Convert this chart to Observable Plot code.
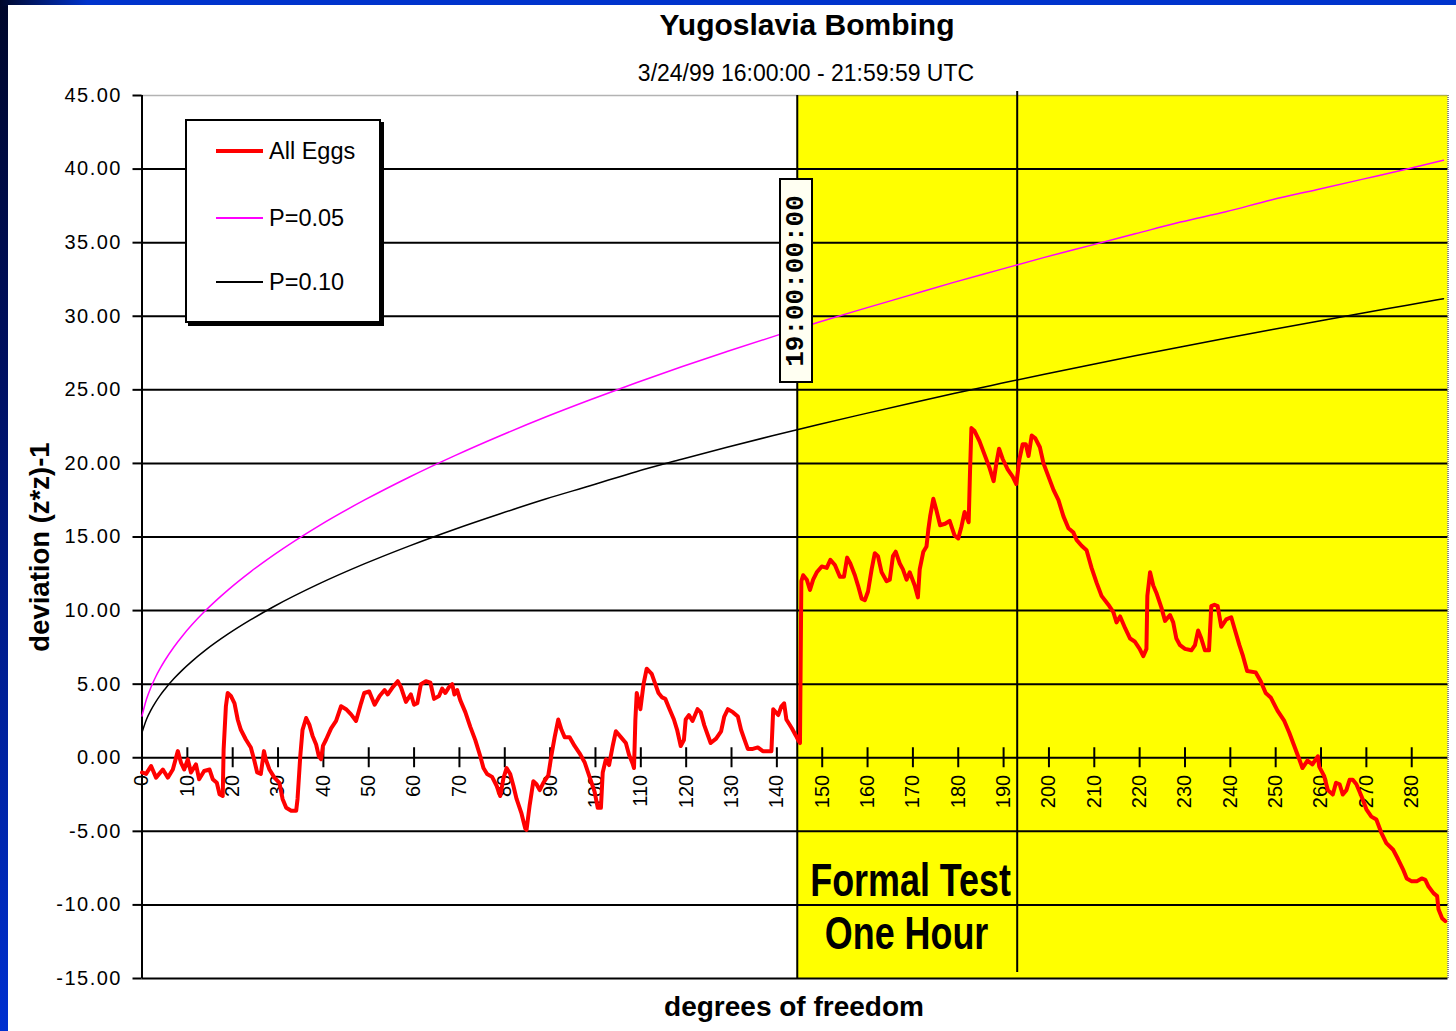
<!DOCTYPE html>
<html>
<head>
<meta charset="utf-8">
<script src="https://cdn.jsdelivr.net/npm/d3@7"></script>
<script src="https://cdn.jsdelivr.net/npm/@observablehq/plot@0.6"></script>
<style>
html, body { margin: 0; padding: 0; }
body { width: 1456px; height: 1031px; overflow: hidden; position: relative;
  background: linear-gradient(to bottom, #00072a 0%, #001060 35%, #0030d0 100%); }
#topstrip { position: absolute; left: 0; top: 0; width: 1456px; height: 6px;
  background: linear-gradient(to right, #00072a 0%, #0033cc 6%, #0033cc 100%); }
#card { position: absolute; left: 8px; top: 5px; width: 1448px; height: 1026px; background: #fff; }
.narrow { font-family: "Liberation Sans Narrow", "Arial Narrow", "Liberation Sans", sans-serif; }
#title { position: absolute; left: 0; width: 1614px; top: 8px; text-align: center; font-size: 30px; font-weight: bold; color: #000; }
#subtitle { position: absolute; left: 0; width: 1612px; top: 60px; text-align: center; font-size: 23px; color: #000; }
#chart { position: absolute; left: 0; top: 85px; }
#ytitle { position: absolute; left: 40px; top: 547px; transform: translate(-50%, -50%) rotate(-90deg); white-space: nowrap; font-size: 27.5px; font-weight: bold; }
#xtitle { position: absolute; left: 0; width: 1588px; top: 991px; text-align: center; font-size: 28px; font-weight: bold; }
#legend { position: absolute; left: 185px; top: 119px; width: 192px; height: 200px; border: 2px solid #000; background: #fff; box-shadow: 3px 3px 0 #000; font-family: "Liberation Sans", Arial, sans-serif; }
#legend .item { position: absolute; left: 0; height: 30px; width: 190px; }
#legend .swatch { position: absolute; left: 29px; width: 47px; top: 50%; }
#legend .lab { position: absolute; left: 82px; top: 50%; transform: translateY(-50%); font-size: 23.5px; white-space: nowrap; }
#stamp { position: absolute; left: 779px; top: 178px; width: 30px; height: 201px; border: 2px solid #000; background: #fffff2; }
#stamp span { position: absolute; left: 50%; top: 50%; transform: translate(-50%, -50%) rotate(-90deg); white-space: nowrap;
  font-family: "Liberation Mono", "DejaVu Sans Mono", monospace; font-weight: bold; font-size: 26px; }
svg text { font-family: "Liberation Sans", Arial, sans-serif; }
g[aria-label="y-axis tick label"] text { letter-spacing: 1.5px; }
</style>
</head>
<body>
<div id="topstrip"></div>
<div id="card"></div>
<div id="title" class="narrow"></div>
<div id="subtitle" class="narrow"></div>
<div id="chart"></div>
<div id="ytitle" class="narrow"></div>
<div id="xtitle" class="narrow"></div>
<div id="legend"></div>
<div id="stamp"><span></span></div>
<script>
// ---- Text ----
const chartTitle = "Yugoslavia Bombing";
const chartSubtitle = "3/24/99 16:00:00 - 21:59:59 UTC";
const yTitle = "deviation (z*z)-1";
const xTitle = "degrees of freedom";
const stampText = "19:00:00:00";
const seriesNames = ["All Eggs", "P=0.05", "P=0.10"];
const seriesColors = ["#ff0000", "#ff00ff", "#000000"];

// ---- Axes ----
const xDomain = [0, 288];
const yDomain = [-15, 45];
const xTickValues = [0,10,20,30,40,50,60,70,80,90,100,110,120,130,140,150,160,170,180,190,200,210,220,230,240,250,260,270,280];
const yTickValues = [-15,-10,-5,0,5,10,15,20,25,30,35,40,45];
const gridValues = [-15,-10,-5,0,5,10,15,20,25,30,35,40];

// ---- Formal test period ----
const formalRegion = [{start: 144.5, end: 288}];
const hourMark = [193];
const notes = [
  {x: 169.5, y: -8.4, text: "Formal Test"},
  {x: 168.6, y: -12.0, text: "One Hour"}
];

// ---- Threshold curves ----
const curveX = [0,1,2,3,4,5,7,9,11,14,19,24,29,39,49,59,69,79,89,99,109,119,129,139,149,159,169,179,189,199,209,219,229,239,249,259,269,279,287];
const p05 = [2.84,3.99,4.81,5.49,6.07,6.59,7.51,8.31,9.03,10.0,11.41,12.65,13.77,15.76,17.50,19.08,20.53,21.88,23.15,24.34,25.48,26.57,27.6,28.6,29.58,30.5,31.4,32.3,33.15,34.0,34.8,35.6,36.4,37.1,37.9,38.6,39.3,40.0,40.6];
const p10 = [1.71,2.61,3.25,3.78,4.24,4.64,5.36,5.99,6.55,7.31,8.41,9.38,10.26,11.81,13.17,14.40,15.53,16.58,17.58,18.50,19.44,20.28,21.1,21.88,22.63,23.35,24.06,24.75,25.41,26.06,26.69,27.31,27.91,28.5,29.08,29.65,30.21,30.75,31.19];

// ---- All Eggs cumulative deviation ----
const allEggs = [[0,-1.0],[0.9,-1.1],[2.0,-0.56],[3.1,-1.35],[4.6,-0.8],[5.7,-1.35],[6.8,-0.8],[7.9,0.45],[8.6,-0.34],[9.3,-0.8],[10.1,-0.11],[10.8,-1.0],[11.9,-0.45],[12.6,-1.46],[13.7,-0.9],[14.9,-0.8],[15.6,-1.46],[16.5,-1.7],[17.1,-2.48],[17.8,-2.6],[18.0,0.56],[18.5,3.5],[18.9,4.4],[19.6,4.2],[20.4,3.7],[21.1,2.6],[21.8,1.9],[22.9,1.24],[24.0,0.7],[24.7,-0.1],[25.4,-1.0],[26.2,-1.1],[26.9,0.45],[27.3,-0.11],[28.1,-0.8],[29.2,-1.35],[30.3,-1.7],[31.0,-2.8],[31.8,-3.4],[32.9,-3.6],[34.0,-3.6],[34.3,-2.8],[34.9,0.1],[35.4,1.9],[36.2,2.7],[36.9,2.25],[37.6,1.5],[38.4,0.9],[39.0,0.1],[39.5,-0.1],[39.9,0.8],[40.6,1.24],[41.7,2.0],[42.8,2.5],[43.9,3.5],[45.0,3.3],[46.1,2.95],[47.2,2.5],[48.3,3.7],[49.0,4.4],[50.1,4.5],[51.3,3.6],[52.4,4.2],[53.5,4.6],[54.2,4.3],[55.3,4.8],[56.4,5.2],[57.1,4.8],[58.2,3.8],[59.3,4.3],[60.0,3.6],[60.7,3.7],[61.5,5.0],[62.6,5.2],[63.6,5.1],[64.4,4.0],[65.5,4.2],[66.2,4.7],[66.9,4.4],[67.7,4.8],[68.4,5.0],[68.9,4.3],[69.5,4.6],[70.2,3.9],[71.3,3.1],[72.4,2.1],[73.5,1.2],[74.6,0.1],[75.3,-0.7],[76.1,-1.1],[77.2,-1.3],[78.2,-1.9],[79.0,-2.6],[79.7,-1.4],[80.4,-0.7],[81.2,-1.1],[81.9,-1.9],[82.6,-2.8],[83.7,-3.8],[84.5,-4.8],[84.8,-4.9],[85.5,-3.2],[86.3,-1.6],[87.0,-1.8],[87.7,-2.2],[88.5,-1.7],[89.6,-1.2],[90.3,0.2],[91.0,1.4],[91.8,2.6],[92.5,1.9],[93.2,1.4],[94.3,1.4],[95.4,0.8],[96.5,0.3],[97.6,-0.3],[98.7,-1.3],[99.8,-2.3],[100.5,-3.4],[101.2,-3.4],[101.6,-1.0],[102.3,-0.1],[103.0,-0.5],[103.8,0.8],[104.5,1.8],[105.6,1.4],[106.7,1.0],[107.4,0.2],[108.2,-0.4],[108.5,-0.7],[108.8,2.6],[109.1,4.4],[109.9,3.3],[110.6,5.0],[111.3,6.05],[112.4,5.7],[113.2,5.0],[113.9,4.4],[114.7,4.1],[115.4,4.0],[116.2,3.4],[117.3,2.6],[118.0,1.9],[118.8,0.8],[119.5,1.2],[119.9,2.6],[120.6,2.9],[121.4,2.5],[122.5,3.3],[123.2,3.1],[124.0,2.2],[124.7,1.6],[125.4,1.0],[126.6,1.3],[127.7,1.8],[128.4,2.8],[129.2,3.3],[130.3,3.1],[131.4,2.8],[132.1,1.9],[132.9,1.2],[133.6,0.6],[134.7,0.6],[135.8,0.7],[136.9,0.45],[138.8,0.45],[139.2,3.3],[140.3,2.9],[141.0,3.5],[141.6,3.7],[142.1,2.6],[143.3,2.0],[144.2,1.5],[144.7,1.2],[145.1,1.0],[145.4,12.0],[145.8,12.4],[146.6,12.1],[147.3,11.4],[148.0,12.1],[148.8,12.6],[149.9,13.0],[151.0,12.9],[151.8,13.45],[152.8,13.1],[153.9,12.3],[154.8,12.3],[155.5,13.6],[156.2,13.2],[157.2,12.4],[157.9,11.7],[158.7,10.8],[159.4,10.7],[160.1,11.3],[160.9,12.8],[161.6,13.9],[162.3,13.7],[163.1,12.6],[164.2,12.0],[164.9,12.1],[165.6,13.7],[166.2,14.0],[167.1,13.2],[167.8,12.8],[168.6,12.1],[169.3,12.6],[170.4,11.7],[171.1,10.9],[171.5,12.8],[172.3,14.0],[173.0,14.35],[173.4,15.5],[173.8,16.4],[174.5,17.6],[175.2,16.8],[176.0,15.8],[177.1,15.9],[178.1,16.1],[179.2,15.1],[180.0,14.9],[180.7,15.7],[181.4,16.7],[182.3,16.0],[182.6,19.5],[182.9,22.4],[183.6,22.2],[184.7,21.5],[185.8,20.6],[186.9,19.7],[187.8,18.8],[188.4,20.0],[189.0,21.0],[189.8,20.3],[190.9,19.6],[192.0,19.1],[192.8,18.6],[193.5,20.3],[194.2,21.3],[194.9,21.3],[195.5,20.5],[196.2,21.9],[197.0,21.7],[198.0,21.1],[198.8,20.0],[199.9,19.1],[201.0,18.2],[202.1,17.5],[203.2,16.4],[204.3,15.6],[205.4,15.3],[206.1,14.8],[207.2,14.4],[208.3,14.1],[209.4,12.9],[210.5,11.9],[211.6,11.0],[213.1,10.4],[214.2,9.9],[214.9,9.2],[215.7,9.6],[216.8,8.8],[217.9,8.1],[218.9,7.9],[220.0,7.4],[220.8,6.9],[221.5,7.4],[221.7,11.0],[222.3,12.6],[223.0,11.7],[223.7,11.2],[224.8,10.2],[225.6,9.3],[226.7,9.7],[227.4,9.2],[228.1,8.1],[228.9,7.65],[230.0,7.4],[231.4,7.3],[232.2,7.65],[232.9,8.65],[233.6,8.1],[234.4,7.3],[235.3,7.3],[235.8,10.3],[236.5,10.4],[237.2,10.3],[238.0,8.9],[239.1,9.4],[240.2,9.55],[240.9,8.8],[242.0,7.65],[242.8,6.9],[243.7,5.9],[245.6,5.8],[246.7,5.2],[247.8,4.4],[248.9,4.1],[250.4,3.2],[251.9,2.5],[253.0,1.7],[254.1,0.8],[255.2,-0.1],[255.9,-0.7],[257.0,-0.2],[258.1,-0.45],[259.3,0.1],[259.6,-0.6],[260.7,-1.25],[261.5,-2.2],[262.6,-2.5],[263.3,-1.7],[264.1,-1.8],[264.8,-2.5],[265.6,-2.2],[266.3,-1.5],[267.0,-1.5],[267.8,-1.8],[268.9,-2.6],[270.0,-3.5],[271.1,-4.0],[272.2,-4.2],[273.3,-5.1],[274.4,-5.8],[275.9,-6.25],[277.0,-6.9],[278.1,-7.6],[278.9,-8.2],[280.0,-8.4],[281.1,-8.4],[282.2,-8.2],[283.0,-8.3],[283.7,-8.75],[284.8,-9.2],[285.6,-9.4],[285.9,-10.3],[286.7,-10.9],[287.4,-11.1]];

// ---- Build tables ----
const curveTable = curveX.map((x, i) => ({x, p05: p05[i], p10: p10[i]}));
const eggTable = allEggs.map(([x, y]) => ({x, y}));

const chart = Plot.plot({
  width: 1456,
  height: 946,
  marginLeft: 141.5,
  marginRight: 8.5,
  marginTop: 10,
  marginBottom: 53,
  x: {domain: xDomain, axis: null},
  y: {domain: yDomain, axis: null},
  style: {background: "transparent", overflow: "visible", fontFamily: "Liberation Sans, Arial, sans-serif", color: "#000"},
  marks: [
    Plot.rect(formalRegion, {x1: "start", x2: "end", y1: yDomain[0], y2: yDomain[1], fill: "#ffff00"}),
    Plot.ruleY(gridValues, {stroke: "#000", strokeWidth: 2}),
    Plot.ruleY([yDomain[1]], {stroke: "#666", strokeWidth: 1.5, strokeDasharray: "1,1"}),
    Plot.ruleX([xDomain[1]], {stroke: "#666", strokeWidth: 1.5, strokeDasharray: "1,1"}),
    Plot.ruleX(formalRegion, {x: "start", stroke: "#000", strokeWidth: 2}),
    Plot.ruleX(hourMark, {stroke: "#000", strokeWidth: 2, insetTop: -4, insetBottom: 6}),
    Plot.ruleX([xDomain[0]], {stroke: "#000", strokeWidth: 2}),
    Plot.axisY(yTickValues, {tickSize: 9, tickPadding: 11, tickFormat: d => d.toFixed(2), fontSize: 20, strokeWidth: 2}),
    Plot.ruleX(xTickValues, {y1: 0, y2: 0, insetTop: 10, insetBottom: 10, stroke: "#000", strokeWidth: 2}),
    Plot.text(xTickValues, {x: d => d, y: 0, text: d => String(d), rotate: -90, textAnchor: "end", dy: 17, fontSize: 20, fill: "#000"}),
    Plot.line(curveTable, {x: "x", y: "p10", stroke: seriesColors[2], strokeWidth: 1.5, curve: "monotone-x"}),
    Plot.line(curveTable, {x: "x", y: "p05", stroke: seriesColors[1], strokeWidth: 1.5, curve: "monotone-x"}),
    Plot.line(eggTable, {x: "x", y: "y", stroke: seriesColors[0], strokeWidth: 4, strokeLinejoin: "round"}),
    Plot.text(notes, {x: "x", y: "y", text: "text", fontSize: 46, fontWeight: "bold", fill: "#000",
      fontFamily: "Liberation Sans, Arial, sans-serif"})
  ]
});
document.getElementById("chart").appendChild(chart);

// condense the annotation lettering (Arial Narrow look)
const noteTexts = notes.map(d => d.text);
chart.querySelectorAll("text").forEach(t => {
  if (!noteTexts.includes(t.textContent)) return;
  const tr = t.getAttribute("transform");
  if (tr) {
    t.setAttribute("transform", tr + " scale(0.78,1)");
  } else {
    const x = +t.getAttribute("x") || 0, y = +t.getAttribute("y") || 0;
    t.removeAttribute("x"); t.removeAttribute("y");
    t.setAttribute("transform", `translate(${x},${y}) scale(0.78,1)`);
  }
});

document.getElementById("title").textContent = chartTitle;
document.getElementById("subtitle").textContent = chartSubtitle;
document.getElementById("ytitle").textContent = yTitle;
document.getElementById("xtitle").textContent = xTitle;
document.querySelector("#stamp span").textContent = stampText;

// legend
const legend = document.getElementById("legend");
const legendY = [30, 97, 161];
const legendW = [4, 2, 2];
seriesNames.forEach((name, i) => {
  const item = document.createElement("div");
  item.className = "item";
  item.style.top = (legendY[i] - 15) + "px";
  const sw = document.createElement("div");
  sw.className = "swatch";
  sw.style.height = legendW[i] + "px";
  sw.style.marginTop = (-legendW[i] / 2) + "px";
  sw.style.background = seriesColors[i];
  const lab = document.createElement("div");
  lab.className = "lab";
  lab.textContent = name;
  item.appendChild(sw);
  item.appendChild(lab);
  legend.appendChild(item);
});
</script>
</body>
</html>
